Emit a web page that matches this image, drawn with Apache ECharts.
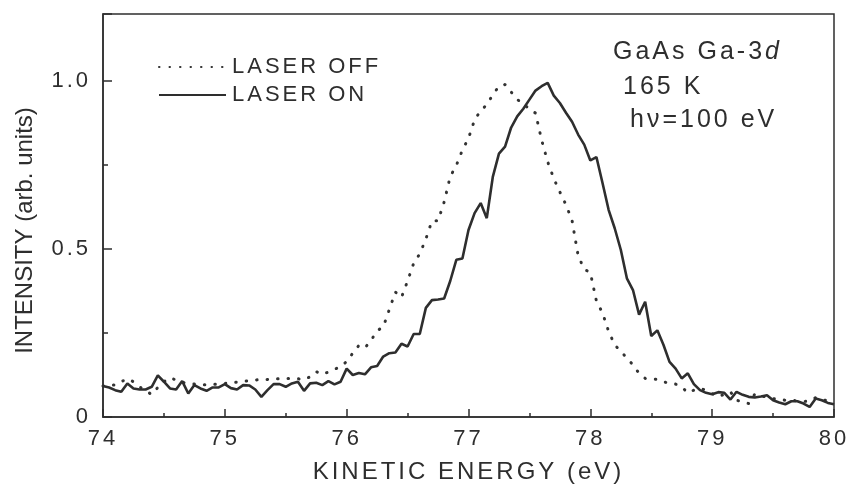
<!DOCTYPE html>
<html>
<head>
<meta charset="utf-8">
<script src="https://cdn.jsdelivr.net/npm/echarts@6/dist/echarts.min.js"></script>
<style>
  html, body { margin: 0; padding: 0; background: #fff; }
  #chart { width: 849px; height: 492px; }
</style>
</head>
<body>
<div id="chart"></div>
<script>
// 能量轴：74 eV 起，每 0.05 eV 一个采样点
var E_START = 74
var E_STEP = 0.05

// LASER OFF（点线）
var laserOff = [
  0.092, 0.095, 0.095, 0.105, 0.114, 0.105, 0.090, 0.078, 0.067, 0.088,
  0.105, 0.117, 0.110, 0.104, 0.099, 0.098, 0.096, 0.096, 0.097, 0.098,
  0.100, 0.102, 0.104, 0.106, 0.108, 0.110, 0.112, 0.112, 0.113, 0.114,
  0.115, 0.115, 0.114, 0.111, 0.120, 0.135, 0.127, 0.134, 0.142, 0.150,
  0.165, 0.190, 0.213, 0.206, 0.228, 0.257, 0.268, 0.320, 0.372, 0.356,
  0.405, 0.458, 0.486, 0.530, 0.584, 0.584, 0.640, 0.716, 0.749, 0.795,
  0.830, 0.885, 0.912, 0.930, 0.960, 0.985, 0.990, 0.968, 0.945, 0.935,
  0.915, 0.905, 0.825, 0.760, 0.710, 0.670, 0.632, 0.585, 0.480, 0.440,
  0.430, 0.345, 0.310, 0.255, 0.215, 0.195, 0.176, 0.155, 0.130, 0.115,
  0.114, 0.112, 0.105, 0.100, 0.098, 0.090, 0.072, 0.080, 0.085, 0.080,
  0.070, 0.060, 0.068, 0.075, 0.050, 0.045, 0.040, 0.068, 0.062, 0.060,
  0.055, 0.052, 0.050, 0.050, 0.048, 0.046, 0.048, 0.058, 0.052, 0.048,
  0.045
]

// LASER ON（实线）
var laserOn = [
  0.092, 0.088, 0.080, 0.075, 0.100, 0.085, 0.082, 0.082, 0.090, 0.124,
  0.105, 0.085, 0.082, 0.107, 0.070, 0.095, 0.085, 0.078, 0.088, 0.088,
  0.098, 0.086, 0.082, 0.095, 0.094, 0.082, 0.060, 0.080, 0.098, 0.098,
  0.090, 0.100, 0.105, 0.078, 0.100, 0.102, 0.095, 0.107, 0.097, 0.105,
  0.144, 0.125, 0.131, 0.127, 0.148, 0.152, 0.180, 0.190, 0.192, 0.218,
  0.210, 0.247, 0.247, 0.325, 0.348, 0.350, 0.353, 0.405, 0.468, 0.472,
  0.557, 0.607, 0.637, 0.592, 0.716, 0.784, 0.805, 0.862, 0.895, 0.918,
  0.945, 0.972, 0.985, 0.995, 0.957, 0.935, 0.906, 0.879, 0.841, 0.811,
  0.764, 0.774, 0.697, 0.617, 0.562, 0.498, 0.413, 0.378, 0.305, 0.343,
  0.241, 0.258, 0.215, 0.164, 0.144, 0.115, 0.130, 0.098, 0.080, 0.072,
  0.068, 0.074, 0.072, 0.052, 0.075, 0.066, 0.060, 0.058, 0.061, 0.065,
  0.050, 0.043, 0.038, 0.047, 0.047, 0.040, 0.030, 0.055, 0.050, 0.042,
  0.038
]

// 刻度标签
var yLabels = { 0: '0', 0.5: '0.5', 1: '1.0' }
var seriesNames = ['LASER OFF', 'LASER ON']

// 原图字距较宽，用 canvas 的 letterSpacing 模拟（Y 轴标题除外）
var TRACK = 3
var ctxProto = CanvasRenderingContext2D.prototype
;['fillText', 'strokeText', 'measureText'].forEach(function(fn) {
  var orig = ctxProto[fn]
  ctxProto[fn] = function() {
    if ('letterSpacing' in this) {
      this.letterSpacing = /Liberation Sans/.test(String(this.font).split(',')[0]) ? TRACK + 'px' : '0px'
    }
    return orig.apply(this, arguments)
  }
})

var FONT = "'Liberation Sans', Arial, sans-serif"
var FONT_PLAIN = "Arial, 'Liberation Sans', sans-serif"
var INK = '#2e2e2e'

function pairs(arr) {
  return arr.map(function(v, i) {
    return [+(E_START + i * E_STEP).toFixed(2), v]
  })
}

var myChart = echarts.init(document.getElementById('chart'), null, { renderer: 'canvas' })

var option = {
  animation: false,
  backgroundColor: '#fff',
  grid: {
    left: 103,
    right: 15,
    top: 14,
    bottom: 75,
    show: true,
    borderColor: INK,
    borderWidth: 1.5,
    containLabel: false,
    outerBoundsMode: 'none'
  },
  legend: {
    data: seriesNames,
    orient: 'vertical',
    left: 153,
    top: 49,
    itemWidth: 67,
    itemHeight: 14,
    itemGap: 2,
    selectedMode: false,
    itemStyle: { opacity: 0 }, // 只要线，不要中间的圆点
    textStyle: {
      fontFamily: FONT,
      fontSize: 22,
      lineHeight: 26,
      color: INK,
      padding: [0, 0, 0, 1]
    }
  },
  xAxis: {
    type: 'value',
    min: 74,
    max: 80,
    interval: 1,
    name: 'KINETIC ENERGY (eV)',
    nameLocation: 'middle',
    nameGap: 42,
    nameTextStyle: { fontFamily: FONT, fontSize: 24, color: INK },
    axisLine: { lineStyle: { color: INK, width: 1.5 } },
    axisTick: { inside: true, length: 8, lineStyle: { color: INK, width: 1.5 } },
    minorTick: { show: true, splitNumber: 2, length: 4, lineStyle: { color: INK, width: 1.5 } },
    axisLabel: { fontFamily: FONT, fontSize: 22, color: INK, margin: 9 },
    splitLine: { show: false }
  },
  yAxis: [{
    type: 'value',
    min: 0,
    max: 1.2,
    interval: 0.5,
    position: 'left',
    name: 'INTENSITY (arb. units)',
    nameLocation: 'middle',
    nameGap: 66,
    nameTextStyle: { fontFamily: FONT_PLAIN, fontSize: 24, color: INK, padding: [0, 30, 0, 0] },
    axisLine: { lineStyle: { color: INK, width: 1.5 } },
    axisTick: { inside: true, length: 9, lineStyle: { color: INK, width: 1.5 } },
    axisLabel: {
      fontFamily: FONT,
      fontSize: 22,
      color: INK,
      margin: 12,
      formatter: function(v) {
        return yLabels[v] !== undefined ? yLabels[v] : ''
      }
    },
    splitLine: { show: false }
  }, {
    // 0.25 间隔的短刻度
    type: 'value',
    min: 0,
    max: 1.2,
    interval: 0.25,
    position: 'left',
    offset: 0,
    axisLine: { show: false },
    axisTick: { inside: true, length: 5, lineStyle: { color: INK, width: 1.5 } },
    axisLabel: { show: false },
    splitLine: { show: false }
  }],
  series: [{
    name: seriesNames[0],
    type: 'line',
    symbol: 'none',
    data: pairs(laserOff),
    lineStyle: { color: '#333', width: 3, type: [0.5, 10], cap: 'round' },
    itemStyle: { color: '#333' },
    z: 2
  }, {
    name: seriesNames[1],
    type: 'line',
    symbol: 'none',
    data: pairs(laserOn),
    lineStyle: { color: INK, width: 2.6 },
    itemStyle: { color: INK },
    z: 3
  }],
  graphic: [{
    type: 'text',
    x: 613,
    y: 52,
    style: {
      text: 'GaAs Ga-3{i|d}',
      font: '25px ' + FONT,
      fill: INK,
      verticalAlign: 'middle',
      rich: { i: { fontStyle: 'italic', fontSize: 25, fontFamily: FONT, fill: INK } }
    }
  }, {
    type: 'text',
    x: 623,
    y: 87,
    style: { text: '165 K', font: '25px ' + FONT, fill: INK, verticalAlign: 'middle' }
  }, {
    type: 'text',
    x: 630,
    y: 120,
    style: { text: 'hν=100 eV', font: '25px ' + FONT, fill: INK, verticalAlign: 'middle' }
  }]
}

myChart.setOption(option)
</script>
</body>
</html>
